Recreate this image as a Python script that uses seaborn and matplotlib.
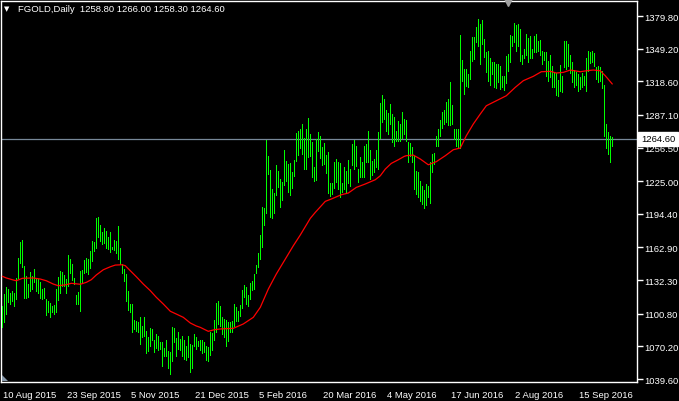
import matplotlib
matplotlib.use("Agg")
import matplotlib.pyplot as plt
import matplotlib.transforms as mtransforms
from matplotlib.patches import Polygon
import seaborn as sns

# daily bars, one per trading day starting 10 Aug 2015
highs = [
    1108.3, 1119.2, 1125.5, 1124.0, 1119.9, 1121.7, 1119.9, 1134.2, 1153.0, 1168.3,
    1169.9, 1145.8, 1136.4, 1128.6, 1139.5, 1136.4, 1142.7, 1134.2, 1133.3, 1130.8,
    1124.0, 1124.5, 1114.5, 1113.0, 1110.8, 1108.3, 1108.9, 1124.0, 1135.5, 1141.1,
    1139.5, 1137.4, 1133.3, 1155.8, 1152.0, 1147.4, 1134.5, 1118.3, 1120.8, 1140.8,
    1141.7, 1151.4, 1153.0, 1152.0, 1159.9, 1168.6, 1167.7, 1190.2, 1191.1, 1184.2,
    1177.0, 1180.8, 1178.6, 1172.4, 1177.0, 1163.6, 1169.9, 1168.6, 1183.3, 1162.0,
    1147.4, 1142.7, 1138.0, 1122.4, 1109.9, 1109.9, 1094.9, 1094.2, 1093.3, 1097.4,
    1089.5, 1097.4, 1084.2, 1079.2, 1087.4, 1086.4, 1076.1, 1081.7, 1080.2, 1074.5,
    1073.9, 1068.6, 1076.4, 1066.1, 1065.2, 1088.0, 1087.0, 1077.7, 1083.9, 1077.0,
    1079.5, 1076.1, 1070.8, 1079.5, 1072.4, 1071.4, 1081.7, 1079.2, 1075.5, 1076.1,
    1076.1, 1074.5, 1070.8, 1069.2, 1083.3, 1082.4, 1094.9, 1110.5, 1112.4, 1107.7,
    1098.0, 1095.8, 1094.9, 1093.3, 1092.7, 1094.2, 1109.9, 1107.4, 1103.0, 1108.9,
    1123.0, 1128.0, 1125.5, 1118.6, 1129.2, 1131.1, 1137.7, 1146.4, 1157.4, 1174.2,
    1200.5, 1199.5, 1263.3, 1248.6, 1235.5, 1217.7, 1213.9, 1240.2, 1234.9, 1227.0,
    1223.9, 1253.9, 1243.6, 1240.8, 1241.7, 1233.3, 1244.5, 1269.9, 1271.7, 1273.8,
    1278.5, 1265.1, 1273.8, 1284.2, 1269.2, 1261.3, 1238.5, 1264.5, 1270.7, 1267.6,
    1256.7, 1260.7, 1249.5, 1252.0, 1223.2, 1223.2, 1243.2, 1245.7, 1242.6, 1242.0,
    1223.2, 1237.9, 1234.8, 1245.1, 1236.3, 1259.8, 1263.8, 1257.6, 1236.3, 1247.3,
    1242.6, 1257.6, 1259.8, 1271.7, 1254.2, 1244.2, 1245.7, 1254.2, 1271.3, 1298.2,
    1305.7, 1302.0, 1291.3, 1288.5, 1297.3, 1287.9, 1284.8, 1272.3, 1281.7, 1278.5,
    1289.4, 1283.2, 1282.3, 1261.3, 1260.4, 1256.6, 1248.8, 1234.8, 1233.8, 1225.4,
    1220.7, 1216.6, 1222.3, 1220.7, 1242.6, 1250.4, 1251.9, 1266.9, 1273.8, 1282.6,
    1289.4, 1291.6, 1299.4, 1301.9, 1318.2, 1296.3, 1273.8, 1273.8, 1273.8, 1361.9,
    1338.5, 1330.1, 1330.1, 1325.4, 1347.3, 1359.8, 1360.4, 1369.1, 1376.9, 1372.3,
    1376.3, 1358.2, 1345.7, 1347.3, 1340.1, 1336.3, 1336.9, 1334.8, 1334.8, 1333.2,
    1323.2, 1323.8, 1342.6, 1344.1, 1361.9, 1361.3, 1373.2, 1371.3, 1372.3, 1367.6,
    1343.2, 1348.8, 1362.9, 1358.8, 1361.3, 1348.8, 1360.7, 1362.9, 1356.6, 1357.6,
    1347.3, 1346.3, 1345.7, 1337.9, 1343.2, 1333.2, 1327.6, 1326.0, 1319.8, 1333.8,
    1323.8, 1356.6, 1356.6, 1353.5, 1343.2, 1336.9, 1329.4, 1326.9, 1325.4, 1322.3,
    1326.0, 1323.2, 1340.1, 1347.3, 1345.7, 1347.3, 1345.1, 1331.6, 1333.2, 1331.6,
    1328.5, 1315.4, 1278.5, 1271.3, 1267.6, 1266.0,
]
lows = [
    1088.6, 1092.7, 1100.5, 1111.4, 1109.9, 1113.0, 1108.3, 1114.5, 1134.2, 1148.0,
    1144.9, 1115.8, 1115.8, 1116.7, 1122.4, 1123.9, 1130.8, 1122.4, 1120.2, 1115.8,
    1114.5, 1115.5, 1099.5, 1102.0, 1097.4, 1102.7, 1100.5, 1102.0, 1113.9, 1120.5,
    1126.4, 1126.4, 1119.9, 1126.7, 1138.9, 1132.7, 1128.6, 1109.9, 1109.9, 1103.3,
    1129.2, 1138.9, 1140.2, 1138.0, 1143.3, 1150.2, 1159.2, 1162.7, 1173.0, 1168.6,
    1165.8, 1166.7, 1162.0, 1161.4, 1158.3, 1161.4, 1160.8, 1157.7, 1152.0, 1147.4,
    1138.6, 1131.4, 1113.0, 1104.2, 1102.0, 1083.9, 1086.4, 1084.2, 1083.3, 1072.7,
    1078.6, 1079.5, 1063.9, 1066.1, 1070.8, 1076.4, 1064.5, 1068.3, 1067.0, 1067.7,
    1051.4, 1060.8, 1061.4, 1049.5, 1044.2, 1056.1, 1074.5, 1061.4, 1067.7, 1067.0,
    1061.4, 1058.3, 1057.4, 1059.9, 1046.4, 1049.5, 1070.8, 1067.7, 1070.8, 1066.7,
    1063.6, 1064.5, 1057.4, 1056.7, 1062.0, 1067.0, 1076.1, 1083.9, 1091.1, 1089.5,
    1081.7, 1079.2, 1070.8, 1075.5, 1083.3, 1083.3, 1088.9, 1094.2, 1094.2, 1098.9,
    1105.8, 1116.1, 1109.9, 1108.3, 1114.5, 1123.3, 1123.9, 1138.9, 1144.2, 1152.0,
    1163.3, 1183.9, 1195.2, 1231.7, 1191.7, 1190.5, 1195.2, 1212.0, 1219.2, 1200.5,
    1207.4, 1221.7, 1224.9, 1215.2, 1212.0, 1218.3, 1230.2, 1243.6, 1249.9, 1255.7,
    1250.4, 1236.3, 1236.3, 1247.9, 1248.8, 1229.2, 1224.8, 1226.0, 1253.5, 1246.3,
    1240.1, 1241.0, 1232.3, 1213.8, 1211.3, 1212.9, 1218.2, 1223.8, 1217.6, 1209.8,
    1214.5, 1217.6, 1215.1, 1222.9, 1220.7, 1240.1, 1236.3, 1239.5, 1223.8, 1229.2,
    1228.5, 1229.2, 1243.2, 1242.6, 1227.0, 1230.7, 1233.2, 1238.5, 1236.3, 1265.1,
    1280.1, 1283.2, 1272.3, 1269.2, 1278.5, 1261.3, 1257.6, 1262.9, 1262.9, 1262.9,
    1265.1, 1269.1, 1262.9, 1242.6, 1248.8, 1242.6, 1217.6, 1212.9, 1209.8, 1206.0,
    1204.0, 1200.0, 1203.0, 1209.8, 1205.0, 1233.2, 1241.0, 1258.2, 1258.2, 1266.9,
    1274.4, 1278.5, 1280.1, 1277.6, 1277.6, 1278.5, 1264.4, 1258.2, 1256.6, 1255.7,
    1319.1, 1306.6, 1313.8, 1312.9, 1320.7, 1337.9, 1339.4, 1355.1, 1351.9, 1334.8,
    1353.5, 1341.0, 1327.6, 1319.1, 1315.1, 1325.4, 1313.5, 1311.9, 1317.6, 1311.3,
    1312.9, 1310.4, 1316.6, 1328.5, 1336.3, 1351.9, 1355.1, 1347.3, 1351.9, 1337.9,
    1334.8, 1340.1, 1343.2, 1336.9, 1340.1, 1340.1, 1345.7, 1345.7, 1347.3, 1343.2,
    1334.8, 1338.5, 1323.2, 1319.1, 1322.3, 1312.9, 1312.9, 1305.7, 1304.5, 1309.8,
    1308.8, 1331.6, 1330.1, 1333.2, 1326.3, 1317.6, 1312.9, 1315.1, 1309.8, 1311.3,
    1312.9, 1315.1, 1309.8, 1328.5, 1335.7, 1336.3, 1333.2, 1320.7, 1318.2, 1319.1,
    1311.9, 1267.6, 1255.7, 1250.4, 1242.6, 1258.3,
]

# moving average (red) at bar positions
ma_bar = [0, 2, 5.5, 7, 10, 15.5, 19, 22, 25.5, 28, 32, 34.5, 39, 42, 44.5, 47, 50.5, 54,
          56.5, 60, 61.5, 64, 67, 70.5, 74, 77, 80.5, 84, 87, 90.5, 94, 97, 99, 103, 106,
          109, 115.5, 120.5, 125.5, 129, 133, 137, 141.5, 145.5, 149, 154, 156.5, 161.5,
          164.5, 169.5, 173, 177, 181.5, 186.5, 189, 191.5, 194.5, 198, 201, 202, 205.5,
          209, 213, 217, 221.5, 225.5, 229, 232, 235.5, 239, 242, 247, 252, 256.5, 260.5,
          265.5, 269.5, 274, 277, 280.5, 284, 289, 292, 295.5, 299, 301.5, 305]
ma_val = [1135.9, 1134.3, 1132.4, 1131.7, 1134.0, 1134.3, 1133.3, 1131.7, 1128.6, 1127.0,
          1128.0, 1129.3, 1128.4, 1130.2, 1132.7, 1137.1, 1142.0, 1144.8, 1146.4, 1146.7,
          1145.8, 1141.1, 1135.5, 1128.6, 1122.4, 1116.2, 1109.9, 1103.1, 1100.5, 1097.4,
          1092.1, 1089.3, 1088.0, 1084.3, 1085.8, 1086.5, 1087.1, 1091.2, 1097.4, 1106.8,
          1123.9, 1138.0, 1152.0, 1164.5, 1174.6, 1190.2, 1195.8, 1206.1, 1208.3, 1212.3,
          1213.9, 1219.2, 1222.4, 1226.4, 1230.1, 1236.4, 1241.7, 1245.1, 1248.3, 1248.9,
          1249.5, 1245.8, 1240.4, 1243.3, 1248.9, 1254.5, 1256.1, 1267.6, 1278.6, 1288.0,
          1295.7, 1300.4, 1305.1, 1313.0, 1319.2, 1323.3, 1327.6, 1328.0, 1326.4, 1327.0,
          1329.2, 1327.6, 1328.5, 1329.2, 1328.5, 1323.8, 1316.1]

date_labels = ["10 Aug 2015", "23 Sep 2015", "5 Nov 2015", "21 Dec 2015", "5 Feb 2016",
               "20 Mar 2016", "4 May 2016", "17 Jun 2016", "2 Aug 2016", "15 Sep 2016"]
price_ticks = [1039.60, 1070.20, 1100.80, 1132.30, 1162.90, 1194.40, 1225.00,
               1256.50, 1287.10, 1318.60, 1349.20, 1379.80]
bid = 1264.60
title = "FGOLD,Daily  1258.80 1266.00 1258.30 1264.60"

sns.set_theme(style="dark", rc={"axes.facecolor": "black", "figure.facecolor": "black"})
plt.rcParams["font.family"] = ["Liberation Sans", "DejaVu Sans"]

W, H = 679, 402
fig = plt.figure(figsize=(W / 100, H / 100), dpi=100)
ax = fig.add_axes([1 / W, 19 / H, 636 / W, 381 / H])
ax.set_facecolor("black")

bars = list(range(len(highs)))
ax.vlines(bars, lows, highs, colors="#00ff00", linewidth=0.6, antialiased=False, zorder=3)
sns.lineplot(x=ma_bar, y=ma_val, color="#ff0000", linewidth=0.9, ax=ax, zorder=4)
ax.axhline(bid, color="#778899", linewidth=0.9, zorder=2)

ax.set_xlim(-0.65, 317.35)
ax.set_ylim(1036.8, 1393.9)

for s in ax.spines.values():
    s.set_color("white")
    s.set_linewidth(1)

ax.yaxis.tick_right()
ax.set_yticks(price_ticks)
ax.set_yticklabels([f"{p:.2f}" for p in price_ticks])
ax.set_xticks([32 * k for k in range(len(date_labels))])
ax.set_xticklabels(date_labels, ha="left")
ax.tick_params(axis="both", colors="white", labelcolor="white", length=4, width=1,
               pad=1.5, labelsize=6.8, direction="out")
for lbl in ax.get_xticklabels():
    lbl.set_transform(lbl.get_transform() + mtransforms.ScaledTranslation(1 / 100, 0, fig.dpi_scale_trans))
ax.set_xlabel("")
ax.set_ylabel("")
ax.grid(False)

# bid price box on the right scale
trans = mtransforms.blended_transform_factory(ax.transAxes, ax.transData)
ax.text(1 + 4 / 636, bid, "1264.60", transform=trans, ha="left", va="center",
        fontsize=6.8, color="black", clip_on=False, zorder=10,
        bbox=dict(boxstyle="square,pad=0.3", fc="white", ec="white"))

# header
fig.text(4 / W, 1 - 9 / H, "▼", color="white", fontsize=5, va="center",
         family=["DejaVu Sans"])
fig.text(18 / W, 1 - 9 / H, title, color="white", fontsize=6.8, va="center")

# chart shift marker and corner marker
ax.plot([508 / W], [1 - 3 / H], marker="v", markersize=6, color="#a0a0a0",
        transform=fig.transFigure, clip_on=False, zorder=10)
fig.patches.append(Polygon([(2 / W, 1 - 376 / H), (2 / W, 1 - 382 / H), (8 / W, 1 - 382 / H)],
                           closed=True, fc="#8899aa", ec="none", transform=fig.transFigure))

fig.savefig("out.png", dpi=100, facecolor="black")
